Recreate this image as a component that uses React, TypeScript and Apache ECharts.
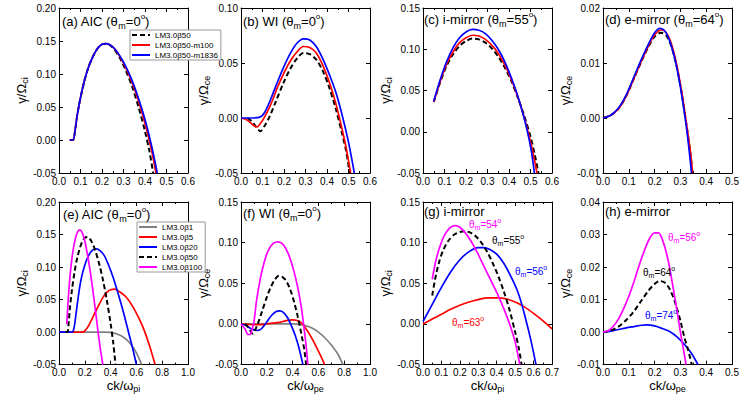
import React, { useEffect, useRef } from 'react';
import * as echarts from 'echarts';

type P = [number, number][];

// ---------- data ----------
// (a) AIC, theta=0
const aBlack: P = [[0.05,0],[0.065,0],[0.075,0.015],[0.085,0.038],[0.1,0.064],[0.12,0.092],[0.14,0.113],[0.16,0.128],[0.18,0.139],[0.2,0.145],[0.22,0.146],[0.25,0.14],[0.28,0.126],[0.31,0.106],[0.34,0.081],[0.37,0.05],[0.4,0.013],[0.42,-0.016],[0.438,-0.05]];
const aRed: P = [[0.05,0],[0.065,0],[0.075,0.015],[0.085,0.038],[0.1,0.064],[0.12,0.092],[0.14,0.113],[0.16,0.128],[0.18,0.139],[0.2,0.145],[0.22,0.146],[0.25,0.141],[0.28,0.128],[0.31,0.11],[0.34,0.087],[0.37,0.059],[0.4,0.025],[0.43,-0.015],[0.451,-0.05]];
const aBlue: P = [[0.05,0],[0.065,0],[0.075,0.015],[0.085,0.038],[0.1,0.064],[0.12,0.092],[0.14,0.113],[0.16,0.128],[0.18,0.139],[0.2,0.145],[0.22,0.146],[0.25,0.141],[0.28,0.129],[0.31,0.112],[0.34,0.09],[0.37,0.063],[0.4,0.031],[0.43,-0.008],[0.457,-0.05]];
// (b) WI, theta=0
const bBlack: P = [[0.03,0],[0.05,-0.003],[0.07,-0.008],[0.09,-0.012],[0.11,-0.007],[0.13,0.0],[0.16,0.014],[0.2,0.033],[0.23,0.045],[0.26,0.054],[0.29,0.059],[0.32,0.058],[0.35,0.053],[0.38,0.043],[0.41,0.028],[0.44,0.009],[0.47,-0.014],[0.49,-0.031],[0.505,-0.05]];
const bRed: P = [[0,0],[0.03,-0.002],[0.06,-0.007],[0.075,-0.008],[0.09,-0.005],[0.11,0.001],[0.14,0.013],[0.17,0.028],[0.2,0.041],[0.23,0.052],[0.26,0.06],[0.29,0.065],[0.32,0.064],[0.35,0.059],[0.38,0.048],[0.41,0.033],[0.44,0.014],[0.47,-0.01],[0.49,-0.028],[0.51,-0.05]];
const bBlue: P = [[0,0],[0.05,0],[0.09,0.001],[0.11,0.005],[0.14,0.018],[0.17,0.033],[0.2,0.047],[0.23,0.059],[0.26,0.068],[0.29,0.072],[0.32,0.071],[0.35,0.065],[0.38,0.054],[0.41,0.04],[0.44,0.024],[0.47,0.003],[0.5,-0.022],[0.527,-0.05]];
// (c) i-mirror, theta=55
const cBlack: P = [[0.05,0.036],[0.08,0.06],[0.11,0.08],[0.14,0.094],[0.17,0.104],[0.2,0.11],[0.23,0.113],[0.26,0.112],[0.29,0.108],[0.32,0.101],[0.35,0.091],[0.38,0.078],[0.41,0.062],[0.44,0.042],[0.47,0.02],[0.5,-0.006],[0.52,-0.028],[0.537,-0.05]];
const cRed: P = [[0.05,0.036],[0.08,0.061],[0.11,0.082],[0.14,0.097],[0.17,0.108],[0.2,0.114],[0.23,0.117],[0.26,0.116],[0.29,0.112],[0.32,0.105],[0.35,0.095],[0.38,0.081],[0.41,0.064],[0.44,0.043],[0.47,0.018],[0.5,-0.012],[0.515,-0.03],[0.53,-0.05]];
const cBlue: P = [[0.05,0.037],[0.08,0.063],[0.11,0.085],[0.14,0.102],[0.17,0.114],[0.2,0.121],[0.23,0.124],[0.26,0.123],[0.29,0.119],[0.32,0.111],[0.35,0.1],[0.38,0.085],[0.41,0.066],[0.44,0.044],[0.47,0.017],[0.49,-0.005],[0.505,-0.025],[0.518,-0.05]];
// (d) e-mirror, theta=64
const dBlack: P = [[0,0],[0.03,0.0005],[0.06,0.0017],[0.09,0.004],[0.12,0.0072],[0.15,0.0104],[0.18,0.0133],[0.2,0.0148],[0.225,0.0155],[0.245,0.015],[0.265,0.013],[0.285,0.0095],[0.305,0.0045],[0.325,-0.0018],[0.34,-0.007],[0.347,-0.01]];
const dRed: P = [[0,0],[0.03,0.0005],[0.06,0.0017],[0.09,0.004],[0.12,0.0072],[0.15,0.0105],[0.18,0.0135],[0.2,0.0151],[0.225,0.016],[0.245,0.0155],[0.265,0.0135],[0.285,0.0098],[0.305,0.0048],[0.325,-0.0015],[0.338,-0.0058],[0.347,-0.01]];
const dBlue: P = [[0,0],[0.03,0.0005],[0.06,0.0018],[0.09,0.0042],[0.12,0.0075],[0.15,0.0108],[0.18,0.0138],[0.2,0.0155],[0.22,0.0163],[0.24,0.0158],[0.26,0.0138],[0.28,0.0105],[0.3,0.0056],[0.32,-0.0005],[0.333,-0.0055],[0.343,-0.01]];
// (e) AIC, beta scan
const eGrey: P = [[0,0],[0.1,0],[0.2,0],[0.3,0],[0.35,0],[0.4,-0.0005],[0.45,-0.003],[0.5,-0.008],[0.55,-0.017],[0.6,-0.032],[0.64,-0.05]];
const eRed: P = [[0,0],[0.1,0],[0.18,0],[0.2,0.002],[0.23,0.01],[0.26,0.022],[0.3,0.038],[0.34,0.053],[0.37,0.061],[0.4,0.065],[0.43,0.066],[0.47,0.062],[0.52,0.054],[0.57,0.04],[0.62,0.021],[0.66,0.003],[0.7,-0.02],[0.745,-0.05]];
const eBlue: P = [[0,0],[0.05,0],[0.1,0],[0.115,0.005],[0.13,0.025],[0.15,0.055],[0.17,0.08],[0.2,0.103],[0.23,0.118],[0.26,0.126],[0.29,0.128],[0.32,0.125],[0.35,0.118],[0.38,0.105],[0.42,0.084],[0.46,0.058],[0.5,0.03],[0.54,-0.001],[0.57,-0.024],[0.6,-0.05]];
const eBlack: P = aBlack;
const eMagenta: P = [[0.06,0.012],[0.07,0.045],[0.085,0.085],[0.1,0.113],[0.12,0.138],[0.14,0.152],[0.16,0.157],[0.18,0.153],[0.2,0.14],[0.22,0.12],[0.24,0.096],[0.26,0.068],[0.28,0.037],[0.3,0.005],[0.32,-0.025],[0.34,-0.05]];
// (f) WI, beta scan
const fGrey: P = [[0,0],[0.1,0],[0.2,0],[0.3,0],[0.4,0],[0.45,-0.0005],[0.5,-0.002],[0.55,-0.005],[0.6,-0.01],[0.65,-0.017],[0.7,-0.026],[0.75,-0.037],[0.79,-0.05]];
const fRed: P = [[0,0],[0.05,-0.0005],[0.1,-0.001],[0.15,-0.0008],[0.2,0],[0.25,0.001],[0.3,0.002],[0.35,0.004],[0.4,0.005],[0.43,0.0045],[0.47,0.001],[0.5,-0.005],[0.54,-0.015],[0.58,-0.027],[0.62,-0.04],[0.648,-0.05]];
const fBlue: P = [[0,0],[0.04,-0.002],[0.08,-0.006],[0.12,-0.008],[0.15,-0.007],[0.18,-0.002],[0.21,0.005],[0.24,0.011],[0.27,0.015],[0.3,0.016],[0.33,0.014],[0.36,0.008],[0.39,-0.002],[0.42,-0.014],[0.45,-0.03],[0.48,-0.05]];
const fBlack: P = bBlack;
const fMagenta: P = [[0,0],[0.03,-0.006],[0.055,-0.013],[0.07,-0.013],[0.085,-0.007],[0.1,0.002],[0.12,0.028],[0.15,0.056],[0.18,0.076],[0.21,0.09],[0.25,0.099],[0.29,0.101],[0.33,0.097],[0.37,0.085],[0.41,0.065],[0.445,0.041],[0.47,0.018],[0.49,-0.007],[0.505,-0.027],[0.518,-0.05]];
// (g) i-mirror, angle scan
const gMagenta: P = [[0.05,0.055],[0.07,0.078],[0.09,0.094],[0.11,0.106],[0.13,0.114],[0.15,0.119],[0.175,0.121],[0.2,0.119],[0.23,0.112],[0.26,0.102],[0.29,0.09],[0.32,0.076],[0.35,0.062],[0.38,0.048],[0.41,0.034],[0.44,0.018],[0.47,0.0],[0.5,-0.022],[0.525,-0.05]];
const gBlack: P = [[0.05,0.035],[0.07,0.06],[0.09,0.078],[0.11,0.091],[0.14,0.103],[0.17,0.11],[0.2,0.113],[0.23,0.114],[0.26,0.112],[0.29,0.107],[0.32,0.099],[0.35,0.088],[0.38,0.074],[0.41,0.058],[0.44,0.039],[0.47,0.017],[0.5,-0.01],[0.52,-0.03],[0.535,-0.05]];
const gBlue: P = [[0,0.003],[0.05,0.024],[0.1,0.045],[0.15,0.064],[0.2,0.079],[0.25,0.089],[0.3,0.094],[0.33,0.094],[0.36,0.092],[0.4,0.086],[0.44,0.074],[0.48,0.057],[0.51,0.042],[0.535,0.025],[0.555,0.008],[0.575,-0.01],[0.595,-0.03],[0.613,-0.05]];
const gRed: P = [[0,0],[0.05,0.006],[0.1,0.012],[0.15,0.018],[0.2,0.023],[0.25,0.027],[0.3,0.03],[0.35,0.032],[0.4,0.032],[0.45,0.031],[0.5,0.027],[0.55,0.021],[0.6,0.013],[0.65,0.004],[0.7,-0.006]];
// (h) e-mirror, angle scan
const hMagenta: P = [[0,0],[0.02,0.0004],[0.04,0.0018],[0.06,0.004],[0.08,0.0072],[0.1,0.011],[0.12,0.0155],[0.14,0.0205],[0.16,0.025],[0.18,0.0287],[0.2,0.0305],[0.215,0.0305],[0.23,0.0285],[0.25,0.023],[0.27,0.0145],[0.285,0.0075],[0.3,0.0],[0.31,-0.0045],[0.322,-0.01]];
const hBlack: P = [[0,0],[0.03,0.0005],[0.06,0.0017],[0.09,0.0037],[0.12,0.0064],[0.15,0.0098],[0.18,0.0131],[0.2,0.0148],[0.22,0.0157],[0.24,0.0152],[0.26,0.013],[0.28,0.009],[0.3,0.0035],[0.315,-0.0015],[0.33,-0.0055],[0.344,-0.01]];
const hBlue: P = [[0,0],[0.03,0.0003],[0.06,0.0008],[0.09,0.0013],[0.12,0.0017],[0.15,0.0021],[0.17,0.0022],[0.2,0.0019],[0.23,0.0011],[0.26,0.0001],[0.29,-0.0017],[0.32,-0.0042],[0.345,-0.0068],[0.368,-0.01]];

// axis ranges: [min, max, interval, decimals]
const xRanges = [[0,0.6,0.1,1],[0,0.6,0.1,1],[0,0.6,0.1,1],[0,0.5,0.1,1],[0,1,0.2,1],[0,1,0.2,1],[0,0.7,0.1,1],[0,0.5,0.1,1]];
const yRanges = [[-0.05,0.2,0.05,2],[-0.05,0.1,0.05,2],[-0.05,0.15,0.05,2],[-0.01,0.02,0.01,2],[-0.05,0.2,0.05,2],[-0.05,0.15,0.05,2],[-0.05,0.15,0.05,2],[-0.01,0.04,0.01,2]];
const ySubs = ['ci','ce','ci','ce','ci','ce','ci','ce'];
const xSubs = ['', '', '', '', 'pi', 'pe', 'pi', 'pe'];
const titles = [
  ['(a) AIC (θ', 'm', '=0', 'o', ')'],
  ['(b) WI (θ', 'm', '=0', 'o', ')'],
  ['(c) i-mirror (θ', 'm', '=55', 'o', ')'],
  ['(d) e-mirror (θ', 'm', '=64', 'o', ')'],
  ['(e) AIC (θ', 'm', '=0', 'o', ')'],
  ['(f) WI (θ', 'm', '=0', 'o', ')'],
  ['(g) i-mirror'],
  ['(h) e-mirror'],
];
const legendA = ['LM3.0β50', 'LM3.0β50-m100', 'LM3.0β50-m1836'];
const legendE = ['LM3.0β1', 'LM3.0β5', 'LM3.0β20', 'LM3.0β50', 'LM3.0β100'];
const angleLabels = [
  { ang: '54', color: '#ff00ff', x: 469, y: 224 },
  { ang: '55', color: '#000000', x: 492, y: 240 },
  { ang: '56', color: '#0000ff', x: 515, y: 271 },
  { ang: '63', color: '#ff0000', x: 452, y: 322 },
  { ang: '56', color: '#ff00ff', x: 668, y: 237 },
  { ang: '64', color: '#000000', x: 643, y: 272 },
  { ang: '74', color: '#0000ff', x: 645, y: 315 },
];

// ---------- layout ----------
const F = '"Liberation Sans", Arial, Helvetica, sans-serif';
const COL_L = [59, 241, 423, 603];
const ROW_T = [8, 202];
const GW = 129;
const GH = 165;
const Y_GAPS = [24, 21, 23, 18, 24, 21, 23, 18];
const TITLE_POS = [[62, 21], [243, 21], [424, 19], [605, 19], [63, 214], [243, 213], [424, 211], [605, 211]];

const BLACK = '#000000', RED = '#ff0000', BLUE = '#0000ff', MAG = '#ff00ff', GREY = '#808080';

type S = { name: string; data: P; color: string; dashed?: boolean };
const panelSeries: S[][] = [
  [{ name: legendA[0], data: aBlack, color: BLACK, dashed: true }, { name: legendA[1], data: aRed, color: RED }, { name: legendA[2], data: aBlue, color: BLUE }],
  [{ name: legendA[0], data: bBlack, color: BLACK, dashed: true }, { name: legendA[1], data: bRed, color: RED }, { name: legendA[2], data: bBlue, color: BLUE }],
  [{ name: legendA[0], data: cBlack, color: BLACK, dashed: true }, { name: legendA[1], data: cRed, color: RED }, { name: legendA[2], data: cBlue, color: BLUE }],
  [{ name: legendA[0], data: dBlack, color: BLACK, dashed: true }, { name: legendA[1], data: dRed, color: RED }, { name: legendA[2], data: dBlue, color: BLUE }],
  [{ name: legendE[0], data: eGrey, color: GREY }, { name: legendE[1], data: eRed, color: RED }, { name: legendE[2], data: eBlue, color: BLUE }, { name: legendE[3], data: eBlack, color: BLACK, dashed: true }, { name: legendE[4], data: eMagenta, color: MAG }],
  [{ name: legendE[0], data: fGrey, color: GREY }, { name: legendE[1], data: fRed, color: RED }, { name: legendE[2], data: fBlue, color: BLUE }, { name: legendE[3], data: fBlack, color: BLACK, dashed: true }, { name: legendE[4], data: fMagenta, color: MAG }],
  [{ name: 'g63', data: gRed, color: RED }, { name: 'g56', data: gBlue, color: BLUE }, { name: 'g55', data: gBlack, color: BLACK, dashed: true }, { name: 'g54', data: gMagenta, color: MAG }],
  [{ name: 'h74', data: hBlue, color: BLUE }, { name: 'h64', data: hBlack, color: BLACK, dashed: true }, { name: 'h56', data: hMagenta, color: MAG }],
];

const fmt = (d: number) => (v: number) => (Math.abs(v) < 1e-9 ? 0 : v).toFixed(d);

const nameRich = {
  t: { fontSize: 13, lineHeight: 16, fontFamily: F, color: '#000' },
  s: { fontSize: 9, lineHeight: 8, verticalAlign: 'bottom', fontFamily: F, color: '#000' },
};

function buildOption() {
  const grid: any[] = [];
  const xAxis: any[] = [];
  const yAxis: any[] = [];
  const series: any[] = [];
  const graphic: any[] = [];
  for (let i = 0; i < 8; i++) {
    const left = COL_L[i % 4];
    const top = ROW_T[Math.floor(i / 4)];
    grid.push({ left, top, width: GW, height: GH, containLabel: false });
    const [xmin, xmax, xint, xd] = xRanges[i];
    const [ymin, ymax, yint, yd] = yRanges[i];
    const line = { show: true, onZero: false, lineStyle: { color: '#000', width: 1 } };
    const baseX = {
      type: 'value', gridIndex: i, min: xmin, max: xmax, interval: xint,
      axisLine: line,
      axisTick: { show: true, inside: true, length: 4, lineStyle: { color: '#000' } },
      minorTick: { show: true, splitNumber: 2, length: 2, lineStyle: { color: '#000' } },
      splitLine: { show: false }, minorSplitLine: { show: false },
    };
    xAxis.push({
      ...baseX, position: 'bottom',
      axisLabel: { show: true, color: '#000', fontSize: 10, fontFamily: F, margin: 3, formatter: fmt(xd) },
      name: xSubs[i] ? `{t|ck/ω}{s|${xSubs[i]}}` : '',
      nameLocation: 'middle', nameGap: 12,
      nameTextStyle: { fontSize: 13, fontFamily: F, color: '#000', rich: nameRich },
    });
    xAxis.push({ ...baseX, position: 'top', axisLabel: { show: false } });
    const baseY = {
      type: 'value', gridIndex: i, min: ymin, max: ymax, interval: yint,
      axisLine: line,
      axisTick: { show: true, inside: true, length: 4, lineStyle: { color: '#000' } },
      splitLine: { show: false },
    };
    yAxis.push({
      ...baseY, position: 'left',
      axisLabel: { show: true, color: '#000', fontSize: 10, fontFamily: F, margin: 3, formatter: fmt(yd) },
      name: `{t|γ/Ω}{s|${ySubs[i]}}`,
      nameLocation: 'middle', nameGap: Y_GAPS[i],
      nameTextStyle: { fontSize: 13, fontFamily: F, color: '#000', rich: nameRich },
    });
    yAxis.push({ ...baseY, position: 'right', axisLabel: { show: false } });

    for (const s of panelSeries[i]) {
      series.push({
        type: 'line', name: s.name, xAxisIndex: 2 * i, yAxisIndex: 2 * i,
        data: s.data, smooth: 0.3, symbol: 'none', showSymbol: false,
        clip: true,
        lineStyle: { color: s.color, width: s.dashed ? 2 : 1.7, type: s.dashed ? [5, 3] : 'solid' },
        itemStyle: { color: s.color },
        emphasis: { disabled: true },
      });
    }

    const t = titles[i];
    const text = t.length > 1
      ? `{t|${t[0]}}{s|${t[1]}}{t|${t[2]}}{p|${t[3]}}{t|${t[4]}}`
      : `{t|${t[0]}}`;
    graphic.push({
      type: 'text', x: TITLE_POS[i][0], y: TITLE_POS[i][1], z: 10,
      style: {
        text, align: 'left', verticalAlign: 'middle', fill: '#000',
        rich: {
          t: { fontSize: 13, lineHeight: 18, fontFamily: F, fill: '#000' },
          s: { fontSize: 9, lineHeight: 8, verticalAlign: 'bottom', fontFamily: F, fill: '#000' },
          p: { fontSize: 8, lineHeight: 8, verticalAlign: 'top', fontFamily: F, fill: '#000' },
        },
      },
    });
  }

  for (const a of angleLabels) {
    graphic.push({
      type: 'text', x: a.x, y: a.y, z: 10,
      style: {
        text: `{t|θ}{s|m}{t|=${a.ang}}{p|o}`, align: 'left', verticalAlign: 'middle', fill: a.color,
        rich: {
          t: { fontSize: 10, lineHeight: 14, fontFamily: F, fill: a.color },
          s: { fontSize: 7, lineHeight: 6, verticalAlign: 'bottom', fontFamily: F, fill: a.color },
          p: { fontSize: 7, lineHeight: 6, verticalAlign: 'top', fontFamily: F, fill: a.color },
        },
      },
    });
  }

  const legendBase = {
    orient: 'vertical', itemWidth: 18, itemHeight: 10, itemGap: 2,
    padding: [1, 3, 1, 1], borderColor: '#999', borderWidth: 1, backgroundColor: '#fff',
    selectedMode: false, z: 8,
    itemStyle: { color: 'rgba(0,0,0,0)', borderWidth: 0, opacity: 0 },
    textStyle: { fontSize: 8, fontFamily: F, color: '#000' },
  };
  const legend = [
    { ...legendBase, data: legendA, left: 130, top: 30 },
    { ...legendBase, data: legendE, left: 137, top: 222 },
  ];

  return {
    animation: false,
    backgroundColor: '#ffffff',
    textStyle: { fontFamily: F },
    grid, xAxis, yAxis, series, graphic, legend,
  };
}

export default function App() {
  const ref = useRef<HTMLDivElement>(null);
  useEffect(() => {
    if (!ref.current) return;
    const chart = echarts.init(ref.current, null, { renderer: 'svg' });
    chart.setOption(buildOption() as any);
    return () => chart.dispose();
  }, []);
  return <div ref={ref} style={{ position: 'absolute', left: 0, top: 0, width: 747, height: 394 }} />;
}
